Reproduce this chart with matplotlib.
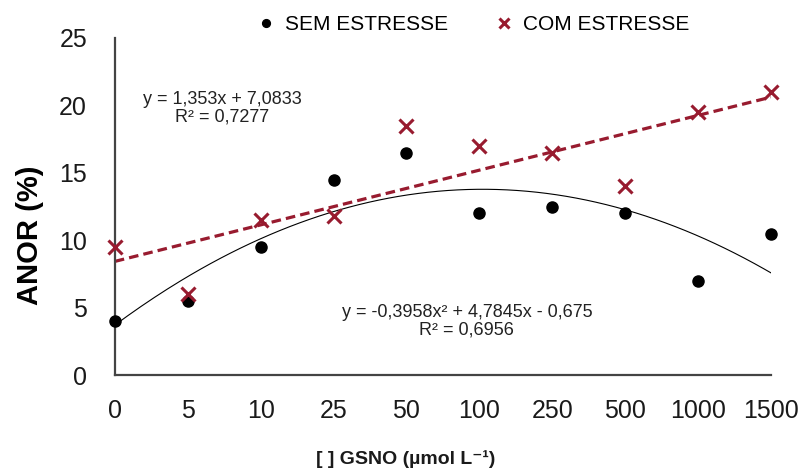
import numpy as np
import matplotlib
matplotlib.use('Agg')
import matplotlib.pyplot as plt

plt.rcParams['font.family'] = ['Liberation Sans', 'DejaVu Sans']

# GSNO doses (categorical axis) and ANOR (%) per treatment
doses = ['0', '5', '10', '25', '50', '100', '250', '500', '1000', '1500']
sem_estresse = [4.0, 5.5, 9.5, 14.5, 16.5, 12.0, 12.5, 12.0, 7.0, 10.5]
com_estresse = [9.5, 6.0, 11.5, 11.8, 18.5, 17.0, 16.5, 14.0, 19.5, 21.0]

# trendline coefficients (x = category index starting at 1)
lin_coef = [1.353, 7.0833]
poly_coef = [-0.3958, 4.7845, -0.675]

RED = '#981b2f'

fig = plt.figure(figsize=(8.03, 4.69), dpi=100)
ax = fig.add_axes([0.143, 0.200, 0.817, 0.719])

x = np.arange(1, len(doses) + 1)
xs = np.linspace(1, len(doses), 200)

ax.plot(xs, np.polyval(poly_coef, xs), color='black', lw=0.8, zorder=2)
ax.plot(xs, np.polyval(lin_coef, xs), color=RED, lw=2.3, ls=(0, (3, 1.6)), zorder=2)

ax.plot(x, sem_estresse, 'o', color='black', ms=8, clip_on=False, zorder=4,
        label='SEM ESTRESSE')
ax.plot(x, com_estresse, 'x', color=RED, ms=10, mew=2.2, clip_on=False, zorder=5,
        label='COM ESTRESSE')

ax.set_xlim(1, len(doses))
ax.set_ylim(0, 25)
ax.set_xticks(x)
ax.set_xticklabels(doses)
ax.set_yticks([0, 5, 10, 15, 20, 25])
ax.tick_params(axis='both', length=0, labelsize=18, colors='#1a1a1a')
ax.tick_params(axis='x', pad=17)
ax.tick_params(axis='y', pad=20)

for side in ('top', 'right'):
    ax.spines[side].set_visible(False)
for side in ('left', 'bottom'):
    ax.spines[side].set_color('#444444')
    ax.spines[side].set_linewidth(1.6)

ax.set_ylabel('ANOR (%)', fontsize=21, fontweight='bold')
ax.yaxis.set_label_coords(-0.108, 0.415)
fig.text(0.505, 0.022, '[ ] GSNO (µmol L⁻¹)', ha='center', va='center',
         fontsize=14, fontweight='bold', color='#1a1a1a')

ax.text(2.47, 19.8, 'y = 1,353x + 7,0833\nR² = 0,7277', ha='center', va='center',
        fontsize=13, color='#222222', linespacing=1.05)
ax.text(5.83, 4.0, 'y = -0,3958x² + 4,7845x - 0,675\nR² = 0,6956', ha='center',
        va='center', fontsize=13, color='#222222', linespacing=1.05)

fig.legend(loc='center', bbox_to_anchor=(0.587, 0.948), ncol=2, frameon=False,
           fontsize=15, handletextpad=0.3, columnspacing=2.1, handlelength=1.2,
           markerscale=0.7)

fig.savefig('out.png', dpi=100)
